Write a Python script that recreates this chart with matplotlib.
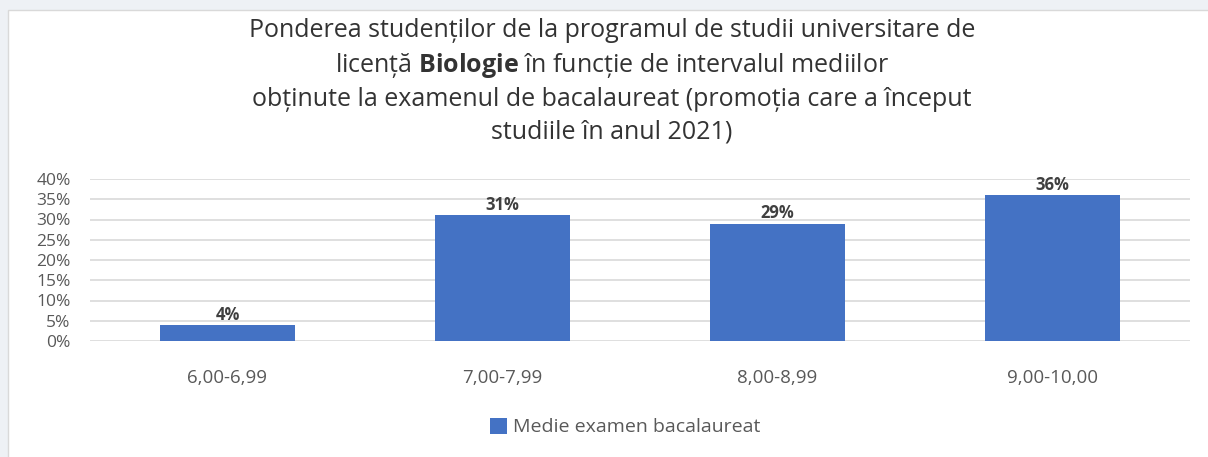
import matplotlib.pyplot as plt
from matplotlib.patches import Rectangle
from matplotlib.ticker import PercentFormatter

categories = ['6,00-6,99', '7,00-7,99', '8,00-8,99', '9,00-10,00']
values = [4, 31, 29, 36]
yticks = [0, 5, 10, 15, 20, 25, 30, 35, 40]
series_name = 'Medie examen bacalaureat'

plt.rcParams['font.family'] = ['Open Sans', 'DejaVu Sans']
plt.rcParams['mathtext.fontset'] = 'custom'
plt.rcParams['mathtext.bf'] = 'Open Sans:bold'
plt.rcParams['mathtext.rm'] = 'Open Sans'

W, H = 1208, 457
fig = plt.figure(figsize=(W / 100, H / 100), dpi=100)
fig.patch.set_facecolor('#eef1f5')

# white chart panel with thin border
fig.patches.append(Rectangle((8 / W, -0.01), 1.0, 1 - 10 / H + 0.01, transform=fig.transFigure,
                             facecolor='white', edgecolor='#d9d9d9', lw=1, zorder=-5))

ax = fig.add_axes([90 / W, 1 - 341 / H, 1100 / W, 162 / H])
ax.set_zorder(2)
ax.set_facecolor('none')

x = range(len(categories))
bars = ax.bar(x, values, width=0.49, color='#4472C4', zorder=3, label=series_name)
for b, v in zip(bars, values):
    ax.text(b.get_x() + b.get_width() / 2, v + 0.3, f'{v}%', ha='center', va='bottom',
            fontsize=12, fontweight='bold', color='#404040')

ax.set_xlim(-0.5, len(categories) - 0.5)
ax.set_ylim(0, 40)
ax.set_yticks(yticks)
ax.yaxis.set_major_formatter(PercentFormatter(decimals=0))
ax.set_xticks(list(x))
ax.set_xticklabels(categories)
ax.grid(axis='y', color='#d9d9d9', lw=1.2, zorder=0)
for s in ax.spines.values():
    s.set_visible(False)
ax.tick_params(length=0, colors='#595959')
ax.tick_params(axis='y', labelsize=12.5, pad=14)
ax.tick_params(axis='x', labelsize=13.5, pad=20)

title = ('Ponderea studenților de la programul de studii universitare de\n'
         'licență $\\mathbf{Biologie}$ în funcție de intervalul mediilor\n'
         'obținute la examenul de bacalaureat (promoția care a început\n'
         'studiile în anul 2021)')
fig.text(612 / W, 1 - 18 / H, title, ha='center', va='top', fontsize=18, color='#333333',
         linespacing=1.38)

fig.legend(loc='center', bbox_to_anchor=(625 / W, 1 - 427 / H), frameon=False,
           fontsize=14, labelcolor='#595959', handlelength=0.9, handleheight=0.9,
           handletextpad=0.3)

fig.savefig('out.png', dpi=100, facecolor=fig.get_facecolor())
